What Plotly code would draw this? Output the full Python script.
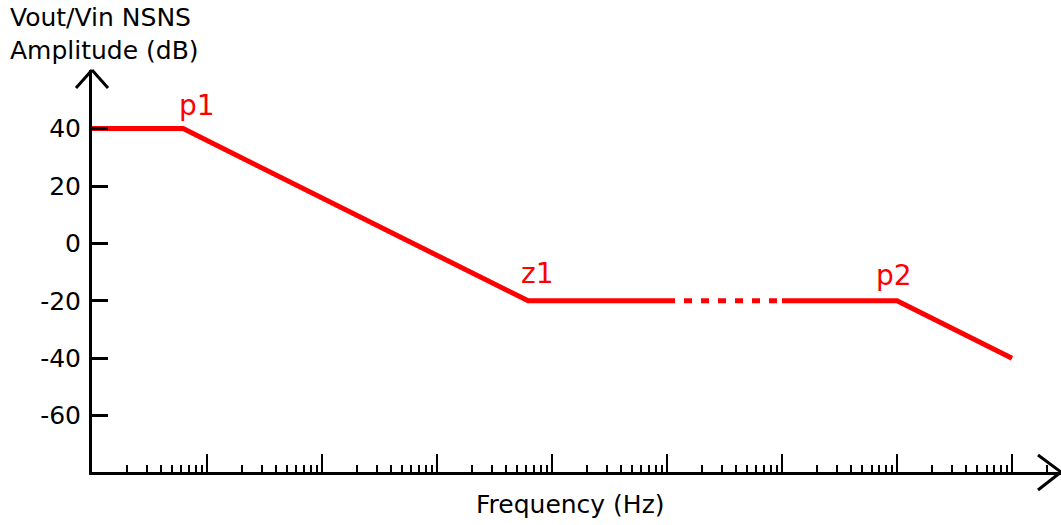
import numpy as np
import plotly.graph_objects as go

# ---- data ----
freq_main = [1, 6.2, 6200, 1e5]
amp_main = [40, 40, -20, -20]
freq_dotted = [1e5, 1e6]
amp_dotted = [-20, -20]
freq_tail = [1e6, 1e7, 1e8]
amp_tail = [-20, -20, -40]

label_text = ["p1", "z1", "p2"]
label_freq = [6.2, 6200, 1e7]
label_amp = [40, -20, -20]
label_dx = [14, 9, -3]
label_dy = [23, 27, 25]

y_ticks = [40, 20, 0, -20, -40, -60]

FONT = "DejaVu Sans"
RED = "#ff0000"

fig = go.Figure()
fig.add_trace(go.Scatter(x=freq_main, y=amp_main, mode="lines",
                         line=dict(color=RED, width=5), hoverinfo="skip"))
fig.add_trace(go.Scatter(x=freq_dotted, y=amp_dotted, mode="lines",
                         line=dict(color=RED, width=5, dash="8px,9px"), hoverinfo="skip"))
fig.add_trace(go.Scatter(x=freq_tail, y=amp_tail, mode="lines",
                         line=dict(color=RED, width=5), hoverinfo="skip"))

for t, fx, fy, dx, dy in zip(label_text, label_freq, label_amp, label_dx, label_dy):
    fig.add_annotation(x=np.log10(fx), y=fy, xref="x", yref="y", text=t,
                       showarrow=False, xanchor="center", yanchor="middle",
                       xshift=dx, yshift=dy,
                       font=dict(family=FONT, size=28, color=RED))

# axis titles
fig.add_annotation(x=0.494, y=0, xref="paper", yref="paper", text="Frequency (Hz)",
                   showarrow=False, xanchor="center", yanchor="middle", yshift=-32,
                   font=dict(family=FONT, size=25, color="black"))
fig.add_annotation(x=0, y=1, xref="paper", yref="paper",
                   text="Vout/Vin NSNS<br>Amplitude (dB)", align="left",
                   showarrow=False, xanchor="left", yanchor="middle", xshift=-84, yshift=36,
                   font=dict(family=FONT, size=25, color="black"))

# arrow heads
arm = dict(type="line", xref="paper", yref="paper", xsizemode="pixel", ysizemode="pixel",
           line=dict(color="black", width=3))
fig.add_shape(**arm, xanchor=0, yanchor=1, x0=0, y0=0, x1=-16, y1=-18)
fig.add_shape(**arm, xanchor=0, yanchor=1, x0=0, y0=0, x1=16, y1=-18)
fig.add_shape(**arm, xanchor=1, yanchor=0, x0=0, y0=0, x1=-23, y1=17)
fig.add_shape(**arm, xanchor=1, yanchor=0, x0=0, y0=0, x1=-23, y1=-18)

fig.update_xaxes(type="log", range=[0, 8.426], showgrid=False, zeroline=False,
                 showline=True, linecolor="black", linewidth=3,
                 dtick=1, ticks="inside", ticklen=18, tickwidth=2, tickcolor="black",
                 showticklabels=False,
                 minor=dict(dtick="D1", ticks="inside", ticklen=7, tickwidth=2,
                            tickcolor="black", showgrid=False))
fig.update_yaxes(range=[-79.6, 60.4], showgrid=False, zeroline=False,
                 showline=True, linecolor="black", linewidth=3,
                 tickvals=y_ticks, ticktext=[str(v) for v in y_ticks],
                 ticks="inside", ticklen=16, tickwidth=3, tickcolor="black",
                 ticklabelstandoff=3,
                 tickfont=dict(family=FONT, size=25, color="black"))

fig.update_layout(width=1061, height=525, margin=dict(l=92, r=0, t=70, b=53),
                  plot_bgcolor="white", paper_bgcolor="white", showlegend=False,
                  font=dict(family=FONT))

fig.write_html("out.html", config={"displayModeBar": False},
               post_script="document.body.style.margin='0';document.body.style.overflow='hidden';")
